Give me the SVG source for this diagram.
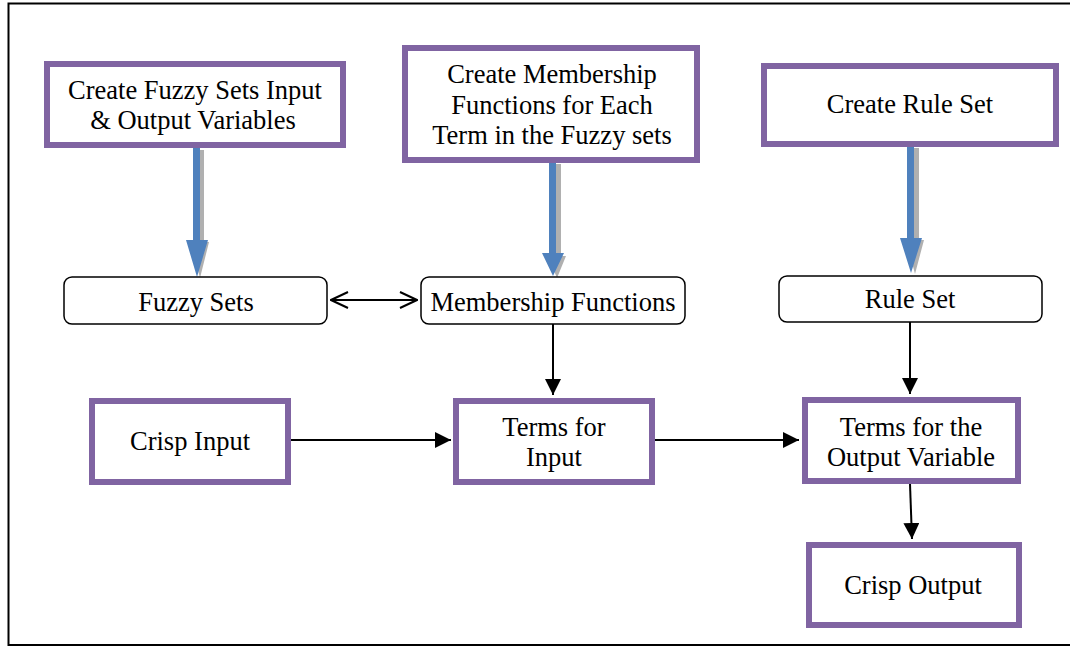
<svg xmlns="http://www.w3.org/2000/svg" width="1070" height="646" viewBox="0 0 1070 646">
<style>
.pb{fill:#fff;stroke:#8064a2;stroke-width:6}
.rb{fill:#fff;stroke:#000;stroke-width:1.5}
.t{font-family:"Liberation Serif","Times New Roman",serif;font-size:26.5px;fill:#000;text-anchor:middle}
.ln{stroke:#000;stroke-width:2;fill:none}
.bl{fill:#4f81bd}
.sh{fill:#b0b0b0}
</style>
<defs>
<marker id="ch" viewBox="0 0 20 20" refX="19" refY="10" markerWidth="20" markerHeight="20" markerUnits="userSpaceOnUse" orient="auto-start-reverse"><path d="M2,2L19,10L2,18" fill="none" stroke="#000" stroke-width="2"/></marker>
<marker id="tri" viewBox="0 0 16 16" refX="16" refY="8" markerWidth="16" markerHeight="16" markerUnits="userSpaceOnUse" orient="auto"><path d="M0,0L16,8L0,16z" fill="#000"/></marker>
</defs>
<rect x="0" y="0" width="1070" height="646" fill="#fff"/>
<path d="M1070,3.5H8.5V645H1070" fill="none" stroke="#000" stroke-width="2"/>

<g id="connectors">
<g id="blue1">
<path class="sh" d="M196,150h8v92h5l-9,36l-9,-36h5z"/>
<path class="bl" d="M193,148h7v92h8l-11,37l-11,-37h7z"/>
</g>
<g id="blue2">
<path class="sh" d="M553,164h8v92h5l-9,22l-9,-22h5z"/>
<path class="bl" d="M549,162h7v91h8l-11,23l-11,-23h7z"/>
</g>
<g id="blue3">
<path class="sh" d="M911,148h8v92h5l-9,34l-9,-34h5z"/>
<path class="bl" d="M907,146h7v92h8l-11,35l-11,-35h7z"/>
</g>
<line class="ln" x1="331" y1="300" x2="417" y2="300" marker-start="url(#ch)" marker-end="url(#ch)"/>
<line class="ln" x1="553" y1="324" x2="553" y2="395" marker-end="url(#tri)"/>
<line class="ln" x1="910" y1="322" x2="910" y2="394" marker-end="url(#tri)"/>
<line class="ln" x1="291" y1="440" x2="451" y2="440" marker-end="url(#tri)"/>
<line class="ln" x1="655" y1="440" x2="799" y2="440" marker-end="url(#tri)"/>
<line class="ln" x1="910" y1="484" x2="912" y2="539" marker-end="url(#tri)"/>
</g>

<g id="n1"><rect class="pb" x="47" y="64" width="296" height="81"/>
<text class="t" x="195" y="99">Create Fuzzy Sets Input</text><text class="t" x="193" y="129">&amp; Output Variables</text></g>
<g id="n2"><rect class="pb" x="405" y="48" width="292" height="112"/>
<text class="t" x="552" y="83">Create Membership</text><text class="t" x="552" y="114">Functions for Each</text><text class="t" x="552" y="144">Term in the Fuzzy sets</text></g>
<g id="n3"><rect class="pb" x="764" y="66" width="292" height="78"/>
<text class="t" x="910" y="113">Create Rule Set</text></g>
<g id="n4"><rect class="rb" x="64" y="277" width="263" height="47" rx="8"/>
<text class="t" x="196" y="311">Fuzzy Sets</text></g>
<g id="n5"><rect class="rb" x="421" y="277" width="264" height="47" rx="8"/>
<text class="t" x="553" y="311">Membership Functions</text></g>
<g id="n6"><rect class="rb" x="779" y="276" width="263" height="46" rx="8"/>
<text class="t" x="910" y="308">Rule Set</text></g>
<g id="n7"><rect class="pb" x="92" y="401" width="196" height="81"/>
<text class="t" x="190" y="450">Crisp Input</text></g>
<g id="n8"><rect class="pb" x="456" y="401" width="196" height="81"/>
<text class="t" x="554" y="436">Terms for</text><text class="t" x="554" y="466">Input</text></g>
<g id="n9"><rect class="pb" x="805" y="400" width="213" height="81"/>
<text class="t" x="911" y="436">Terms for the</text><text class="t" x="911" y="466">Output Variable</text></g>
<g id="n10"><rect class="pb" x="809" y="545" width="210" height="80"/>
<text class="t" x="913" y="594">Crisp Output</text></g>
</svg>
